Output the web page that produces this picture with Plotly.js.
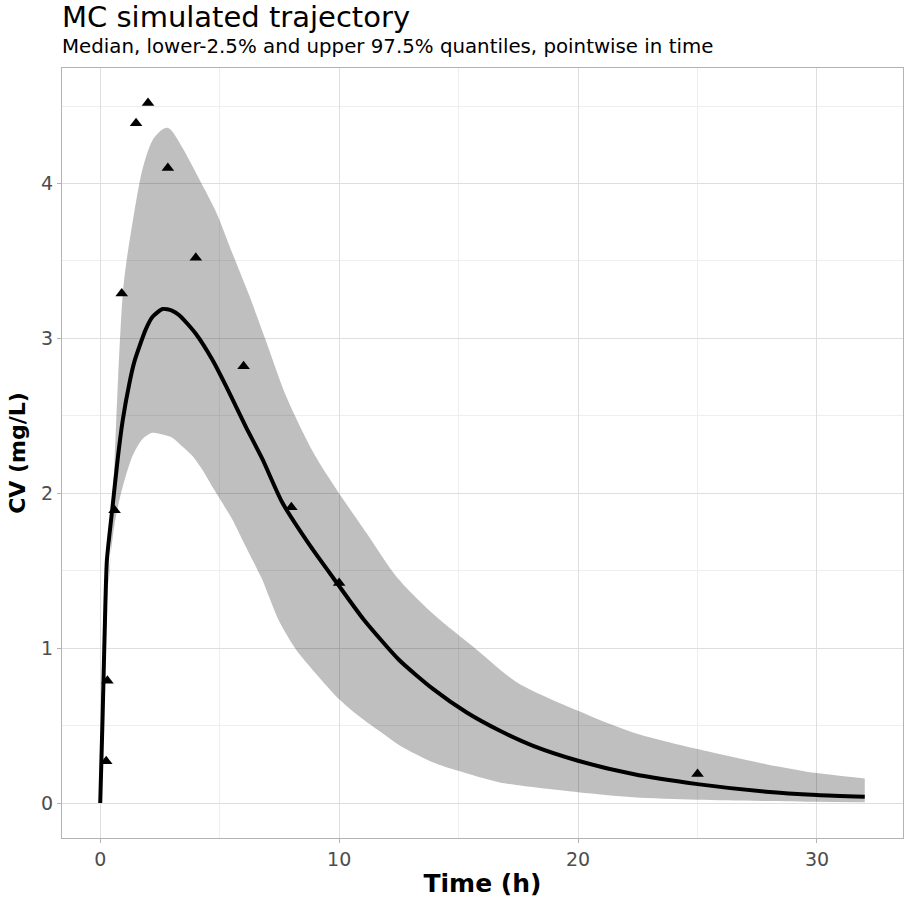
<!DOCTYPE html>
<html>
<head>
<meta charset="utf-8">
<script src="https://cdn.plot.ly/plotly-3.0.1.min.js"></script>
<style>html,body{margin:0;padding:0;background:#fff;}#chart{width:904px;height:898px;}</style>
</head>
<body>
<div id="chart"></div>
<script>
// Median trajectory
const medianT = [0, 0.1, 0.22, 0.28, 0.52, 0.73, 0.94, 1.22, 1.43, 1.91, 2.19, 2.61, 3.0, 3.31, 4.0, 4.7, 5.4, 6.09, 6.79, 7.62, 8.79, 9.91, 11, 12.5, 13.94, 15.34, 16.73, 18.12, 20, 22.3, 25, 27.87, 30, 32];
const medianC = [0, 0.56, 1.31, 1.57, 1.92, 2.22, 2.47, 2.71, 2.85, 3.06, 3.14, 3.19, 3.18, 3.15, 3.03, 2.86, 2.65, 2.43, 2.22, 1.94, 1.66, 1.42, 1.19, 0.925, 0.735, 0.584, 0.466, 0.369, 0.273, 0.187, 0.122, 0.073, 0.052, 0.041];

// Upper 97.5% quantile
const upperT = [0, 0.25, 0.4, 0.5, 0.6, 0.75, 0.95, 1.1, 1.43, 1.78, 2.19, 2.61, 2.8, 3.0, 3.45, 4.14, 4.84, 5.53, 6.23, 6.9, 7.8, 8.93, 9.91, 11.16, 12.41, 13.94, 15.76, 17.43, 20, 22.3, 25, 27.87, 30, 32];
const upperC = [0, 1.3, 1.5, 1.9, 2.2, 2.75, 3.3, 3.5, 3.82, 4.1, 4.28, 4.35, 4.36, 4.34, 4.23, 4.03, 3.82, 3.55, 3.28, 3.0, 2.62, 2.26, 2.02, 1.74, 1.46, 1.22, 0.99, 0.78, 0.595, 0.455, 0.348, 0.251, 0.193, 0.159];

// Lower 2.5% quantile
const lowerT = [0, 0.25, 0.4, 0.6, 0.75, 0.94, 1.35, 1.77, 2.19, 2.6, 3.0, 3.45, 3.86, 4.28, 4.7, 5.1, 5.53, 5.95, 6.37, 6.79, 7.07, 7.5, 8.2, 9, 10, 11, 12, 12.55, 13.94, 14.99, 16.73, 20, 22.3, 25, 30, 32];
const lowerC = [0, 1.2, 1.55, 1.8, 1.92, 2.04, 2.24, 2.35, 2.39, 2.38, 2.36, 2.30, 2.24, 2.15, 2.04, 1.94, 1.83, 1.70, 1.57, 1.44, 1.33, 1.17, 0.99, 0.84, 0.67, 0.54, 0.43, 0.37, 0.262, 0.208, 0.133, 0.069, 0.037, 0.021, 0.008, 0.005];

// Observed concentrations
const obsT = [0.25, 0.3, 0.6, 0.9, 1.5, 2, 2.83, 4, 6, 8, 10, 25];
const obsC = [0.27, 0.79, 1.89, 3.29, 4.39, 4.52, 4.10, 3.52, 2.82, 1.91, 1.42, 0.187];

const xTicks = [0, 10, 20, 30];
const yTicks = [0, 1, 2, 3, 4];

const font = 'DejaVu Sans, sans-serif';

const traces = [
  {x: lowerT, y: lowerC, type: 'scatter', mode: 'lines',
   line: {width: 0, shape: 'spline', smoothing: 0.8}, hoverinfo: 'skip', showlegend: false},
  {x: upperT, y: upperC, type: 'scatter', mode: 'lines', fill: 'tonexty',
   fillcolor: 'rgba(0,0,0,0.25)', line: {width: 0, shape: 'spline', smoothing: 0.8},
   hoverinfo: 'skip', showlegend: false},
  {x: obsT, y: obsC, type: 'scatter', mode: 'markers',
   marker: {symbol: 'triangle-up', size: 11, color: '#000'}, showlegend: false},
  {x: medianT, y: medianC, type: 'scatter', mode: 'lines',
   line: {color: '#000', width: 4, shape: 'spline', smoothing: 0.6}, showlegend: false}
];

const layout = {
  width: 904, height: 898,
  margin: {l: 62, r: 1, t: 68, b: 60},
  paper_bgcolor: '#fff', plot_bgcolor: '#fff',
  font: {family: font, color: '#000'},
  title: {
    text: 'MC simulated trajectory',
    font: {family: font, size: 29, color: '#000'},
    x: 0, xref: 'paper', xanchor: 'left',
    y: 1 - 17 / 898, yref: 'container', yanchor: 'middle'
  },
  annotations: [{
    text: 'Median, lower-2.5% and upper 97.5% quantiles, pointwise in time',
    xref: 'paper', yref: 'paper', x: 0, y: (838 - 47) / 770, xshift: -2,
    xanchor: 'left', yanchor: 'middle', showarrow: false,
    font: {family: font, size: 19.8, color: '#000'}
  }],
  xaxis: {
    range: [-1.6, 33.6], tickvals: xTicks, ticktext: xTicks.map(String),
    showgrid: true, gridcolor: '#dedede', gridwidth: 1, zeroline: false,
    minor: {dtick: 5, tick0: 0, showgrid: true, gridcolor: '#eeeeee', gridwidth: 1},
    ticks: 'outside', ticklen: 4, tickcolor: '#b3b3b3', tickwidth: 1,
    tickfont: {family: font, size: 19, color: '#4d4d4d'},
    showline: true, linecolor: '#b3b3b3', linewidth: 1, mirror: true,
    title: {text: '<b>Time (h)</b>', font: {family: font, size: 25, color: '#000'}, standoff: 6}
  },
  yaxis: {
    range: [-0.226, 4.746], tickvals: yTicks, ticktext: yTicks.map(String),
    showgrid: true, gridcolor: '#dedede', gridwidth: 1, zeroline: false,
    minor: {dtick: 0.5, tick0: 0, showgrid: true, gridcolor: '#eeeeee', gridwidth: 1},
    ticks: 'outside', ticklen: 4, tickcolor: '#b3b3b3', tickwidth: 1,
    tickfont: {family: font, size: 19, color: '#4d4d4d'},
    showline: true, linecolor: '#b3b3b3', linewidth: 1, mirror: true,
    title: {text: '<b>CV (mg/L)</b>', font: {family: font, size: 22, color: '#000'}, standoff: 9}
  }
};

Plotly.newPlot('chart', traces, layout, {displayModeBar: false, staticPlot: true});
</script>
</body>
</html>
